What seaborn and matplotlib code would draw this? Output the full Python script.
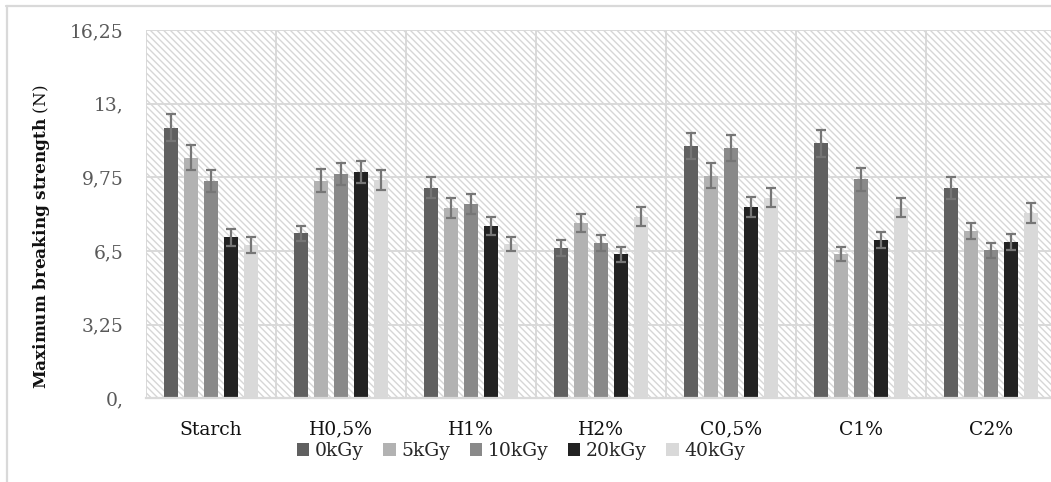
import numpy as np
import pandas as pd
import matplotlib
matplotlib.use("Agg")
import matplotlib.pyplot as plt
from matplotlib.patches import Rectangle
from matplotlib.lines import Line2D
import seaborn as sns

categories = ["Starch", "H0,5%", "H1%", "H2%", "C0,5%", "C1%", "C2%"]
doses = ["0kGy", "5kGy", "10kGy", "20kGy", "40kGy"]

v_0kGy = [11.94, 7.28, 9.29, 6.63, 11.14, 11.25, 9.29]
v_5kGy = [10.61, 9.60, 8.39, 7.73, 9.82, 6.37, 7.38]
v_10kGy = [9.59, 9.89, 8.58, 6.85, 11.04, 9.66, 6.53]
v_20kGy = [7.10, 9.98, 7.60, 6.35, 8.44, 6.98, 6.90]
v_40kGy = [6.76, 9.63, 6.81, 8.01, 8.84, 8.41, 8.19]

e_0kGy = [0.59, 0.34, 0.47, 0.34, 0.57, 0.59, 0.49]
e_5kGy = [0.55, 0.50, 0.43, 0.41, 0.54, 0.32, 0.35]
e_10kGy = [0.49, 0.50, 0.44, 0.35, 0.59, 0.50, 0.34]
e_20kGy = [0.37, 0.50, 0.40, 0.32, 0.44, 0.35, 0.34]
e_40kGy = [0.35, 0.46, 0.32, 0.41, 0.42, 0.41, 0.44]

yticks = [0, 3.25, 6.5, 9.75, 13, 16.25]
ytick_labels = ["0,", "3,25", "6,5", "9,75", "13,", "16,25"]

colors = ["#606060", "#b2b2b2", "#898989", "#222222", "#d9d9d9"]

values = [v_0kGy, v_5kGy, v_10kGy, v_20kGy, v_40kGy]
errors = [e_0kGy, e_5kGy, e_10kGy, e_20kGy, e_40kGy]

rows = []
for d, vals in zip(doses, values):
    for c, v in zip(categories, vals):
        rows.append({"cat": c, "dose": d, "val": v})
df = pd.DataFrame(rows)

sns.set_style("white")
plt.rcParams["font.family"] = ["DejaVu Serif", "DejaVu Sans"]
plt.rcParams["mathtext.fontset"] = "custom"
plt.rcParams["mathtext.bf"] = "DejaVu Serif:bold"
plt.rcParams["mathtext.rm"] = "DejaVu Serif"
plt.rcParams["hatch.color"] = "#d6d6d6"
plt.rcParams["hatch.linewidth"] = 1.0

fig = plt.figure(figsize=(10.51, 4.82), dpi=100)
ax = fig.add_axes([146 / 1051, (482 - 398.3) / 482, 910 / 1051, 368.3 / 482])

grid_c = "#d9d9d9"
ax.add_patch(Rectangle((0, 0), 1, 1, transform=ax.transAxes, facecolor="white",
                       edgecolor="#d6d6d6", hatch=chr(92) * 5, lw=0, zorder=0))

sns.barplot(data=df, x="cat", y="val", hue="dose", order=categories, hue_order=doses,
            palette=colors, width=0.77, gap=0.33, errorbar=None, ax=ax,
            saturation=1, zorder=3, edgecolor="none", linewidth=0)

for cont, errs in zip(ax.containers, errors):
    xs = [b.get_x() + b.get_width() / 2 for b in cont]
    hs = [b.get_height() for b in cont]
    ax.errorbar(xs, hs, yerr=errs, fmt="none", ecolor="#767676", elinewidth=1.6,
                capsize=3.8, capthick=1.6, zorder=4)

ax.set_xlim(-0.5, len(categories) - 0.5)
ax.set_ylim(0, 16.25)
ax.set_yticks(yticks)
ax.set_yticklabels(ytick_labels)
for y in yticks:
    ax.axhline(y, color=grid_c, lw=1.4, zorder=1)
for i in range(len(categories) + 1):
    ax.axvline(i - 0.5, color=grid_c, lw=1.4, zorder=1)

for s in ax.spines.values():
    s.set_visible(False)
ax.spines["bottom"].set_visible(True)
ax.spines["bottom"].set_color(grid_c)
ax.spines["bottom"].set_linewidth(1.6)
ax.spines["bottom"].set_zorder(5)

ax.tick_params(axis="y", length=0, pad=16, labelsize=13.5, labelcolor="#595959")
ax.tick_params(axis="x", length=0, pad=16, labelsize=13.5, labelcolor="#111111")
ax.set_xlabel("")
ax.set_ylabel("")

fig.text(42 / 1051, 1 - 237 / 482, r"$\mathbf{Maximum\ breaking\ strength}$ (N)",
         rotation=90, ha="center", va="center", fontsize=12.2, color="#111111")

handles, labels = ax.get_legend_handles_labels()
if ax.legend_ is not None:
    ax.legend_.remove()
fig.legend(handles, labels, loc="center", bbox_to_anchor=(521 / 1051, 1 - 451 / 482),
           ncol=5, frameon=False, fontsize=13.5, handlelength=0.65, handleheight=0.65,
           handletextpad=0.3, columnspacing=1.05, borderaxespad=0)

fig.add_artist(Line2D([6 / 1051, 1.0], [1 - 5.5 / 482, 1 - 5.5 / 482], color=grid_c, lw=1.6,
                      transform=fig.transFigure))
fig.add_artist(Line2D([6.5 / 1051, 6.5 / 1051], [0, 1 - 5.5 / 482], color=grid_c, lw=1.6,
                      transform=fig.transFigure))

fig.savefig("out.png", dpi=100)
